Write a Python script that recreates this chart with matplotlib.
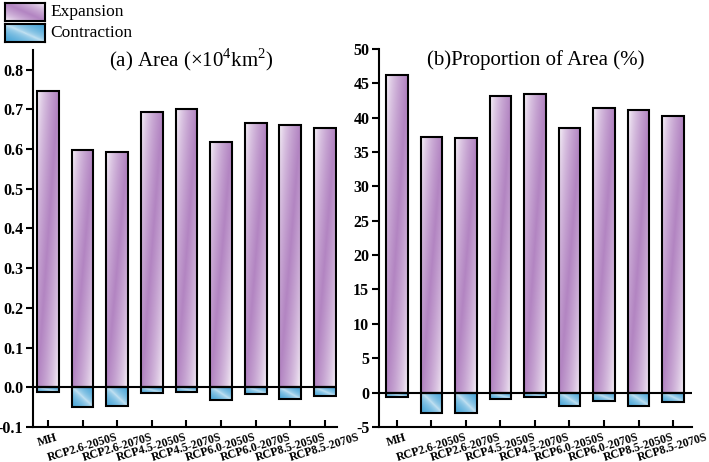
import numpy as np
import matplotlib.pyplot as plt
from matplotlib.patches import Rectangle

plt.rcParams["font.family"] = ["Liberation Serif", "DejaVu Serif"]
plt.rcParams["mathtext.fontset"] = "custom"
plt.rcParams["mathtext.rm"] = "Liberation Serif"

PURPLE = np.array([0.70, 0.52, 0.76])
BLUE = np.array([0.27, 0.64, 0.84])
WHITE = np.array([1.0, 1.0, 1.0])

labels = ["MH", "RCP2.6-2050S", "RCP2.6-2070S", "RCP4.5-2050S", "RCP4.5-2070S",
          "RCP6.0-2050S", "RCP6.0-2070S", "RCP8.5-2050S", "RCP8.5-2070S"]

area_exp = [0.747, 0.598, 0.593, 0.694, 0.702, 0.619, 0.667, 0.662, 0.652]
area_con = [-0.012, -0.050, -0.048, -0.015, -0.012, -0.033, -0.018, -0.030, -0.022]

prop_exp = [46.2, 37.2, 37.0, 43.1, 43.5, 38.5, 41.4, 41.1, 40.3]
prop_con = [-0.7, -3.0, -3.0, -1.0, -0.7, -2.0, -1.2, -1.9, -1.4]


def gradient(color, kind, n=120):
    u = np.linspace(0, 1, 24)[None, :]
    v = np.linspace(1, 0, n)[:, None]  # row 0 = top
    if kind == "exp":
        f = u + (1 - v)
        t = np.clip(1 - np.abs(f - 1), 0, 1) ** 0.6
    else:
        f = u + v
        t = np.clip(np.abs(f - 1.0), 0, 1) ** 0.5
        t = 0.25 + 0.75 * t
    return WHITE + (color - WHITE) * t[..., None]


def gbar(ax, x, h, w, color, kind):
    x0, x1 = x - w / 2, x + w / 2
    y0, y1 = min(0, h), max(0, h)
    ax.imshow(gradient(color, kind), extent=(x0, x1, y0, y1), aspect="auto",
              origin="upper", interpolation="bilinear", zorder=2)
    ax.add_patch(Rectangle((x0, y0), w, y1 - y0, facecolor="none",
                           edgecolor="black", lw=1.5, zorder=3))


def panel(ax, exp, con, xlim, ylim, yticks, yfmt, title, tx, ty):
    x = np.arange(len(labels))
    w = 0.63
    for xi, e, c in zip(x, exp, con):
        gbar(ax, xi, e, w, PURPLE, "exp")
        gbar(ax, xi, c, w, BLUE, "con")
    ax.axhline(0, color="black", lw=1.5, zorder=4)
    ax.set_xlim(*xlim)
    ax.set_ylim(*ylim)
    ax.set_yticks(yticks)
    ax.set_yticklabels([yfmt.format(t) for t in yticks], fontweight="bold", fontsize=11.5)
    ax.set_xticks(x)
    ax.set_xticklabels(labels, rotation=17, ha="center", fontweight="bold", fontsize=8.5)
    ax.tick_params(axis="y", direction="out", length=5, width=1.5, pad=2)
    ax.tick_params(axis="x", direction="in", length=5, width=1.5, pad=3)
    for s in ["top", "right"]:
        ax.spines[s].set_visible(False)
    for s in ["left", "bottom"]:
        ax.spines[s].set_linewidth(1.5)
    ax.text(tx, ty, title, transform=ax.transAxes, ha="center", va="center", fontsize=15)


fig = plt.figure(figsize=(7.09, 4.62), dpi=100)
ax1 = fig.add_axes([0.0465, 0.076, 0.429, 0.816])
ax2 = fig.add_axes([0.5346, 0.076, 0.4414, 0.818])

panel(ax1, area_exp, area_con, (-0.43, 8.35), (-0.1, 0.85),
      [-0.1, 0.0, 0.1, 0.2, 0.3, 0.4, 0.5, 0.6, 0.7, 0.8], "{:.1f}",
      r"(a) Area ($\times$10$^4$km$^2$)", 0.52, 0.975)
panel(ax2, prop_exp, prop_con, (-0.52, 8.55), (-5, 50),
      list(range(-5, 51, 5)), "{:d}", "(b)Proportion of Area (%)", 0.5, 0.97)

# legend
for i, (name, col, kind) in enumerate([("Expansion", PURPLE, "exp"), ("Contraction", BLUE, "con")]):
    top = 3 + i * 21
    lax = fig.add_axes([5 / 709, 1 - (top + 18) / 462, 40 / 709, 18 / 462])
    g = gradient(col, kind, n=20) if kind == "con" else np.transpose(
        gradient(col, "exp", n=24)[:, ::-1], (1, 0, 2))
    lax.imshow(g, aspect="auto", extent=(0, 1, 0, 1), interpolation="bilinear")
    lax.set_xticks([])
    lax.set_yticks([])
    for s in lax.spines.values():
        s.set_linewidth(1.5)
    fig.text(50 / 709, 1 - (top + 9) / 462, name, ha="left", va="center", fontsize=12.5)

fig.savefig("out.png", dpi=100)
